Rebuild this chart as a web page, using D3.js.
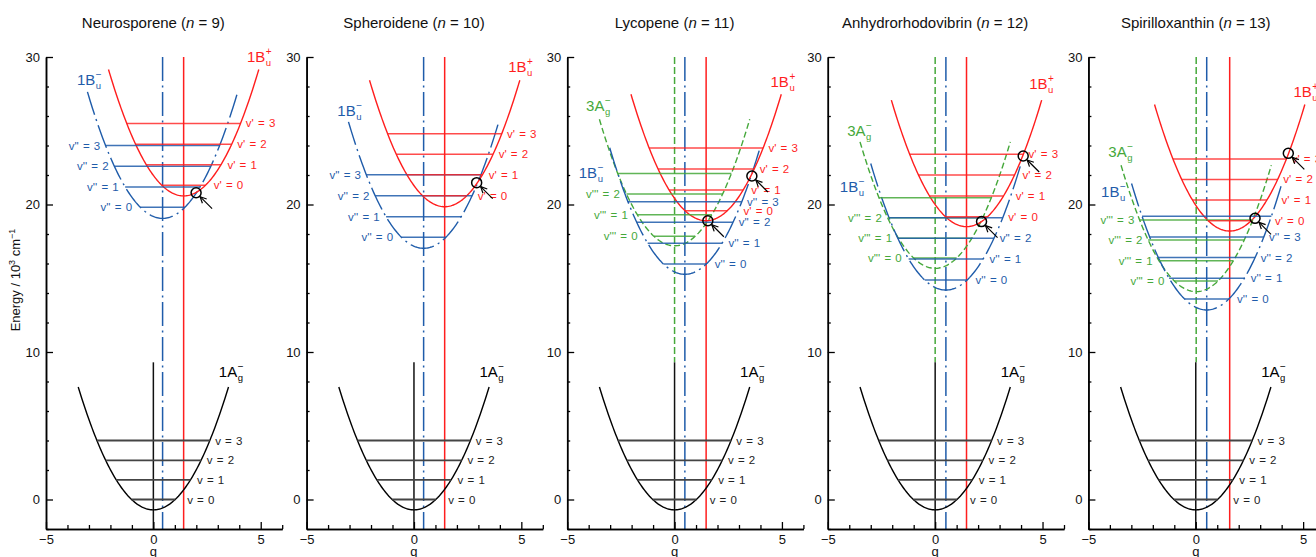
<!DOCTYPE html>
<html>
<head>
<meta charset="utf-8">
<script src="https://cdn.jsdelivr.net/npm/d3@7"></script>
<style>
  body { margin: 0; background: #fff; }
  svg { display: block; font-family: "Liberation Sans", Arial, sans-serif; }
</style>
</head>
<body>
<svg id="chart" width="1316" height="557"></svg>
<script>
// ---- Data: potential curves of the carotenoid excited states ----
const molecules = ["Neurosporene", "Spheroidene", "Lycopene", "Anhydrorhodovibrin", "Spirilloxanthin"];
const chainLength = [9, 10, 11, 12, 13];

// 1Ag− ground state (identical in every panel)
const groundCenter = 0;
const groundMin = -0.7;
const groundLevels = [0, 1.33, 2.65, 4.0];

// 1Bu− state
const bluCenter = [0.43, 0.45, 0.48, 0.5, 0.51];
const bluMin = [19.06, 17.03, 15.27, 14.2, 12.85];
const bluLevels = [
  [19.81, 21.19, 22.6, 24.0],
  [17.78, 19.17, 20.6, 22.02],
  [15.97, 17.37, 18.79, 20.19],
  [14.88, 16.31, 17.71, 19.1],
  [13.59, 15.0, 16.4, 17.8, 19.2]
];
const bluLabelled = [4, 4, 4, 3, 4];

// 1Bu+ state
const redCenter = [1.41, 1.43, 1.47, 1.46, 1.58];
const redMin = [20.58, 19.85, 18.9, 18.5, 18.2];
const redLevels = [
  [21.3, 22.7, 24.08, 25.5],
  [20.6, 22.02, 23.4, 24.8],
  [19.58, 20.98, 22.4, 23.83],
  [19.17, 20.58, 22.0, 23.4],
  [18.9, 20.3, 21.7, 23.08]
];
const redLabelled = [4, 4, 4, 4, 4];

// 3Ag− state (only found for n ≥ 11)
const grnCenter = [null, null, 0, 0, 0.02];
const grnMin = [null, null, 17.2, 15.67, 14.09];
const grnLevels = [
  [],
  [],
  [17.84, 19.31, 20.71, 22.1],
  [16.37, 17.71, 19.1, 20.46],
  [14.81, 16.19, 17.6, 18.95]
];
const grnLabelled = [0, 0, 3, 3, 4];

// curve crossings (q, energy) marked with circles
const crossings = [
  [[1.99, 20.8]],
  [[2.92, 21.48]],
  [[1.55, 18.9], [3.6, 21.93]],
  [[2.16, 18.84], [4.1, 23.29]],
  [[2.76, 19.06], [4.31, 23.47]]
];

const yTicksMajor = [0, 10, 20, 30];
const xTicksMajor = [-5, 0, 5];

// ---- Layout ----
const curvK = { ground: 0.68, excited: 0.7 };
const halfSpan = 3.5;
const colors = { red: "#ff1e1e", blue: "#1f5caa", green: "#45a83a", ground: "#000" };
const blueDash = "24,4.5,2,4.5";
const greenDash = "6,3";

// label anchors (q, energy) for the state names
const groundLabelAt = [3.05, 8.3];
const bluLabelAt = [[-3.56, 28.1], [-3.57, 26.0], [-4.46, 21.8], [-4.44, 20.87], [-4.41, 20.53]];
const redLabelAt = [[4.36, 29.66], [4.39, 29.0], [4.47, 27.95], [4.38, 27.8], [4.55, 27.3]];
const grnLabelAt = [null, null, [-4.12, 26.34], [-4.1, 24.64], [-4.07, 23.24]];
const bluLabelSide = ["left", "left", "right", "right", "right"];

const svg = d3.select("#chart");
const y = d3.scaleLinear().domain([-2, 30]).range([529, 57]);
const panelX0 = i => 46 + i * 260.6;
const xOf = i => d3.scaleLinear().domain([-5, 6]).range([panelX0(i), panelX0(i) + 236.2]);

function parabola(c, k) {
  const qs = d3.range(0, 121).map(j => c.q0 - halfSpan + (2 * halfSpan) * j / 120);
  return qs.map(q => [q, c.min + k * (q - c.q0) * (q - c.q0)]);
}

function stateLabel(g, px, py, main, sub, sup, color) {
  const t = g.append("text").attr("x", px).attr("y", py).attr("fill", color)
    .style("font-size", "15px").text(main);
  const w = t.node().getComputedTextLength();
  g.append("text").attr("x", px + w + 0.5).attr("y", py + 4).attr("fill", color)
    .style("font-size", "9.5px").text(sub);
  g.append("text").attr("x", px + w + 0.5).attr("y", py - 7).attr("fill", color)
    .style("font-size", "10px").text(sup);
}

molecules.forEach((name, i) => {
  const x = xOf(i);
  const g = svg.append("g");
  const line = d3.line().x(d => x(d[0])).y(d => y(d[1]));

  const blue = { q0: bluCenter[i], min: bluMin[i], k: curvK.excited };
  const red = { q0: redCenter[i], min: redMin[i], k: curvK.excited };
  const green = grnCenter[i] === null ? null : { q0: grnCenter[i], min: grnMin[i], k: curvK.excited };
  const ground = { q0: groundCenter, min: groundMin, k: curvK.ground };
  const excited = [blue, red].concat(green ? [green] : []);

  // title
  const title = g.append("text").attr("x", x(0)).attr("y", 28).attr("text-anchor", "middle")
    .style("font-size", "15px").attr("fill", "#111");
  title.append("tspan").text(name + " (");
  title.append("tspan").style("font-style", "italic").text("n");
  title.append("tspan").text(" = " + chainLength[i] + ")");

  // vertical guides through the minima
  if (green) {
    g.append("line").attr("x1", x(green.q0)).attr("x2", x(green.q0))
      .attr("y1", y(30)).attr("y2", y(9.3))
      .attr("stroke", colors.green).attr("stroke-width", 1.5).attr("stroke-dasharray", "7,3");
  }
  g.append("line").attr("x1", x(0)).attr("x2", x(0)).attr("y1", y(9.3)).attr("y2", y(-2))
    .attr("stroke", "#111").attr("stroke-width", 1.5);
  g.append("line").attr("x1", x(blue.q0)).attr("x2", x(blue.q0)).attr("y1", y(30)).attr("y2", y(-2))
    .attr("stroke", colors.blue).attr("stroke-width", 1.5).attr("stroke-dasharray", blueDash);
  g.append("line").attr("x1", x(red.q0)).attr("x2", x(red.q0)).attr("y1", y(30)).attr("y2", y(-2))
    .attr("stroke", colors.red).attr("stroke-width", 1.5);

  // potential curves
  g.append("path").attr("d", line(parabola(ground, ground.k))).attr("fill", "none")
    .attr("stroke", "#000").attr("stroke-width", 1.4);
  if (green) {
    g.append("path").attr("d", line(parabola(green, green.k))).attr("fill", "none")
      .attr("stroke", colors.green).attr("stroke-width", 1.4).attr("stroke-dasharray", greenDash);
  }
  g.append("path").attr("d", line(parabola(blue, blue.k))).attr("fill", "none")
    .attr("stroke", colors.blue).attr("stroke-width", 1.4).attr("stroke-dasharray", blueDash);
  g.append("path").attr("d", line(parabola(red, red.k))).attr("fill", "none")
    .attr("stroke", colors.red).attr("stroke-width", 1.4);

  const vlines = [x(0), x(blue.q0), x(red.q0)];

  function levelLines(c, levels, color, width, opacity) {
    g.selectAll(null).data(levels).enter().append("line")
      .attr("x1", E => x(c.q0 - Math.sqrt((E - c.min) / c.k)))
      .attr("x2", E => x(c.q0 + Math.sqrt((E - c.min) / c.k)))
      .attr("y1", E => y(E)).attr("y2", E => y(E))
      .attr("stroke", color).attr("stroke-width", width).attr("stroke-opacity", opacity);
  }

  function levelLabel(text, E, side, color, curves) {
    const Er = E + 0.4;
    const reach = curves.filter(c => Er >= c.min && Er <= c.min + c.k * halfSpan * halfSpan + 0.5);
    const edge = side === "right"
      ? d3.max(reach, c => c.q0 + Math.sqrt((Er - c.min) / c.k))
      : d3.min(reach, c => c.q0 - Math.sqrt((Er - c.min) / c.k));
    const t = g.append("text").attr("y", y(E)).attr("dy", "0.35em").attr("fill", color)
      .style("font-size", "11.5px").style("word-spacing", "1px").text(text);
    const w = t.node().getComputedTextLength();
    let px = side === "right" ? x(edge) + 3 : x(edge) - 3 - w;
    // keep the vertical guides from running through the label
    vlines.forEach(v => {
      if (v > px - 3 && v < px + w + 1) px = side === "right" ? v + 3.5 : v - 3.5 - w;
    });
    t.attr("x", px);
  }

  // vibrational levels
  levelLines(ground, groundLevels, "#444", 1.8, 1);
  if (green) levelLines(green, grnLevels[i], colors.green, 1.5, 0.85);
  levelLines(blue, bluLevels[i], colors.blue, 1.5, 0.85);
  levelLines(red, redLevels[i], colors.red, 1.5, 0.8);

  groundLevels.forEach((E, v) => levelLabel("v = " + v, E, "right", "#222", [ground]));
  redLevels[i].slice(0, redLabelled[i]).forEach((E, v) =>
    levelLabel("v' = " + v, E, "right", colors.red, excited));
  bluLevels[i].slice(0, bluLabelled[i]).forEach((E, v) =>
    levelLabel("v'' = " + v, E, bluLabelSide[i], colors.blue, excited));
  if (green) grnLevels[i].slice(0, grnLabelled[i]).forEach((E, v) =>
    levelLabel("v''' = " + v, E, "left", colors.green, excited));

  // state names
  stateLabel(g, x(groundLabelAt[0]), y(groundLabelAt[1]), "1A", "g", "\u2212", "#000");
  stateLabel(g, x(bluLabelAt[i][0]), y(bluLabelAt[i][1]), "1B", "u", "\u2212", colors.blue);
  stateLabel(g, x(redLabelAt[i][0]), y(redLabelAt[i][1]), "1B", "u", "+", colors.red);
  if (green) stateLabel(g, x(grnLabelAt[i][0]), y(grnLabelAt[i][1]), "3A", "g", "\u2212", colors.green);

  // crossing markers with arrows
  crossings[i].forEach(([q, E]) => {
    const cx = x(q), cy = y(E);
    g.append("circle").attr("cx", cx).attr("cy", cy).attr("r", 5)
      .attr("fill", "none").attr("stroke", "#000").attr("stroke-width", 1.5);
    const tipX = cx + 4, tipY = cy + 4;
    g.append("line").attr("x1", cx + 16).attr("y1", cy + 16).attr("x2", tipX).attr("y2", tipY)
      .attr("stroke", "#000").attr("stroke-width", 1.2);
    const back = Math.PI / 4;
    [-0.45, 0.45].forEach(a => {
      g.append("line").attr("x1", tipX).attr("y1", tipY)
        .attr("x2", tipX + 7 * Math.cos(back + a)).attr("y2", tipY + 7 * Math.sin(back + a))
        .attr("stroke", "#000").attr("stroke-width", 1.2);
    });
  });

  // axes
  const yAxisMinor = d3.axisLeft(y).tickValues(d3.range(-2, 31, 2).filter(v => v % 10 !== 0))
    .tickSize(-3).tickFormat("").tickSizeOuter(0);
  const yAxis = d3.axisLeft(y).tickValues(yTicksMajor).tickSize(-7).tickPadding(6).tickSizeOuter(0);
  const xAxisMinor = d3.axisBottom(x).tickValues(d3.range(-4, 7).filter(v => v % 5 !== 0))
    .tickSize(-4).tickFormat("").tickSizeOuter(0);
  const xAxis = d3.axisBottom(x).tickValues(xTicksMajor).tickSize(-7).tickPadding(6)
    .tickFormat(d => d < 0 ? "\u2212" + Math.abs(d) : d).tickSizeOuter(0);

  [[yAxisMinor, "translate(" + panelX0(i) + ",0)"], [yAxis, "translate(" + panelX0(i) + ",0)"],
   [xAxisMinor, "translate(0," + y(-2) + ")"], [xAxis, "translate(0," + y(-2) + ")"]]
    .forEach(([ax, tr]) => {
      const a = g.append("g").attr("transform", tr).call(ax);
      a.select(".domain").attr("stroke", "#000").attr("stroke-width", 1.5);
      a.selectAll(".tick line").attr("stroke", "#000").attr("stroke-width", 1.3);
      a.selectAll(".tick text").attr("fill", "#111").style("font-size", "13px")
        .style("font-family", "'Liberation Sans', Arial, sans-serif");
    });

  g.append("text").attr("x", x(0)).attr("y", 556).attr("text-anchor", "middle")
    .style("font-size", "13px").attr("fill", "#111").text("q");
});

// energy axis title
const yt = svg.append("text").attr("transform", "translate(20,280) rotate(-90)")
  .attr("text-anchor", "middle").style("font-size", "13px").attr("fill", "#111");
yt.append("tspan").text("Energy / 10");
yt.append("tspan").attr("dy", -5).style("font-size", "9px").text("3");
yt.append("tspan").attr("dy", 5).text(" cm");
yt.append("tspan").attr("dy", -5).style("font-size", "9px").text("\u22121");
</script>
</body>
</html>
